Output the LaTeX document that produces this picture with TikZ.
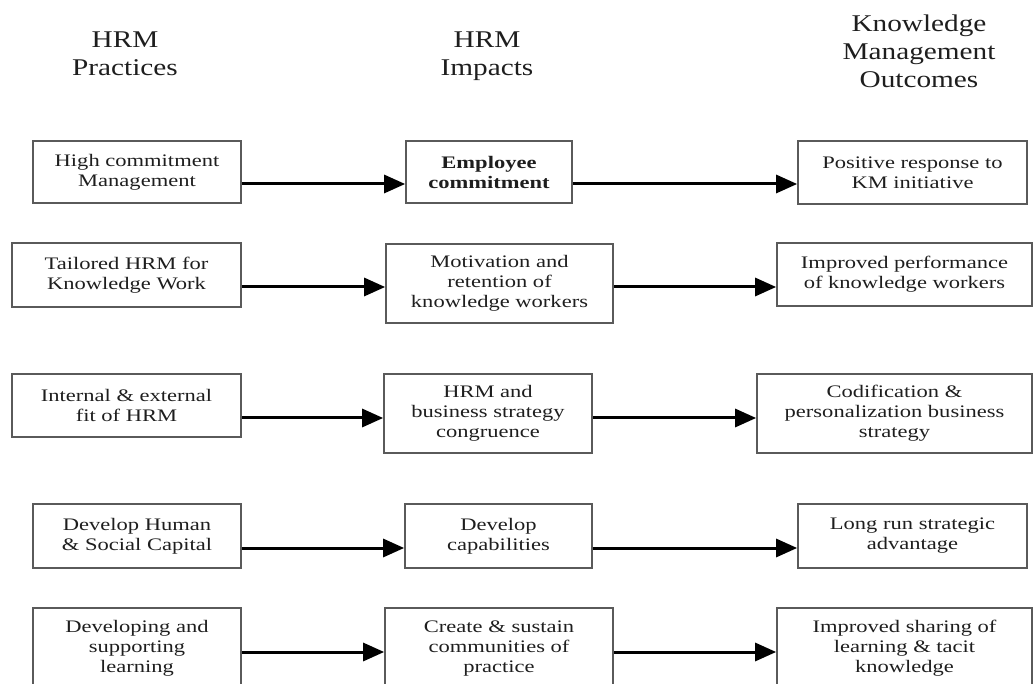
\documentclass[tikz,border=0pt]{standalone}
\usepackage{fontspec}
\setmainfont{Liberation Serif}[FakeStretch=1.28]
\newfontfamily\headfont{Liberation Serif}[FakeStretch=1.22]
\usetikzlibrary{arrows.meta}
\definecolor{ink}{HTML}{1E1E1E}
\definecolor{boxgray}{HTML}{5A5A5A}

% #1 name, #2 left, #3 top, #4 right, #5 bottom, #6 text
\newcommand{\placebox}[6]{%
  \node[box, minimum width={(#4-#2)*1pt}, minimum height={(#5-#3)*1pt}]
    (#1) at ({(#2+#4)/2},{(#3+#5)/2}) {#6};}

\begin{document}
\begin{tikzpicture}[x=1pt,y=-1pt,
  box/.style={draw=boxgray, line width=1.7pt, align=center, inner sep=0pt,
    text=ink, font=\fontsize{17.6}{20}\selectfont},
  head/.style={align=center, anchor=north, inner sep=0pt, text=ink,
    font=\headfont\fontsize{24}{28}\selectfont},
  link/.style={draw=black, line width=3pt, -{Triangle[length=21pt,width=18pt]}}]

\useasboundingbox (0,0) rectangle (1034,684);
\clip (0,0) rectangle (1034,684);

% column headings
\node[head] (h1) at (125,32) {HRM\\Practices};
\node[head] (h2) at (487,32) {HRM\\Impacts};
\node[head] (h3) at (919,15) {Knowledge\\Management\\Outcomes};

% heights of the connectors in each row
\coordinate (r1) at (0,184);
\coordinate (r2) at (0,287);
\coordinate (r3) at (0,418);
\coordinate (r4) at (0,548);
\coordinate (r5) at (0,652);

% row 1
\placebox{a1}{33}{141}{241}{203}{High commitment\\Management}
\placebox{b1}{406}{141}{572}{203}{\bfseries Employee\\\bfseries commitment}
\placebox{c1}{798}{141}{1027}{204}{Positive response to\\KM initiative}

% row 2
\placebox{a2}{12}{243}{241}{307}{Tailored HRM for\\Knowledge Work}
\placebox{b2}{386}{244}{613}{323}{Motivation and\\retention of\\knowledge workers}
\placebox{c2}{777}{243}{1032}{306}{Improved performance\\of knowledge workers}

% row 3
\placebox{a3}{12}{374}{241}{437}{Internal \& external\\fit of HRM}
\placebox{b3}{384}{374}{592}{453}{HRM and\\business strategy\\congruence}
\placebox{c3}{757}{374}{1032}{453}{Codification \&\\personalization business\\strategy}

% row 4
\placebox{a4}{33}{504}{241}{568}{Develop Human\\\& Social Capital}
\placebox{b4}{405}{504}{592}{568}{Develop\\capabilities}
\placebox{c4}{798}{504}{1027}{568}{Long run strategic\\advantage}

% row 5
\placebox{a5}{33}{608}{241}{689}{Developing and\\supporting\\learning}
\placebox{b5}{385}{608}{613}{689}{Create \& sustain\\communities of\\practice}
\placebox{c5}{777}{608}{1032}{689}{Improved sharing of\\learning \& tacit\\knowledge}

% connectors
\foreach \r in {1,...,5}{
  \draw[link] (a\r.east |- r\r) -- (b\r.west |- r\r);
  \draw[link] (b\r.east |- r\r) -- (c\r.west |- r\r);
}
\end{tikzpicture}
\end{document}
